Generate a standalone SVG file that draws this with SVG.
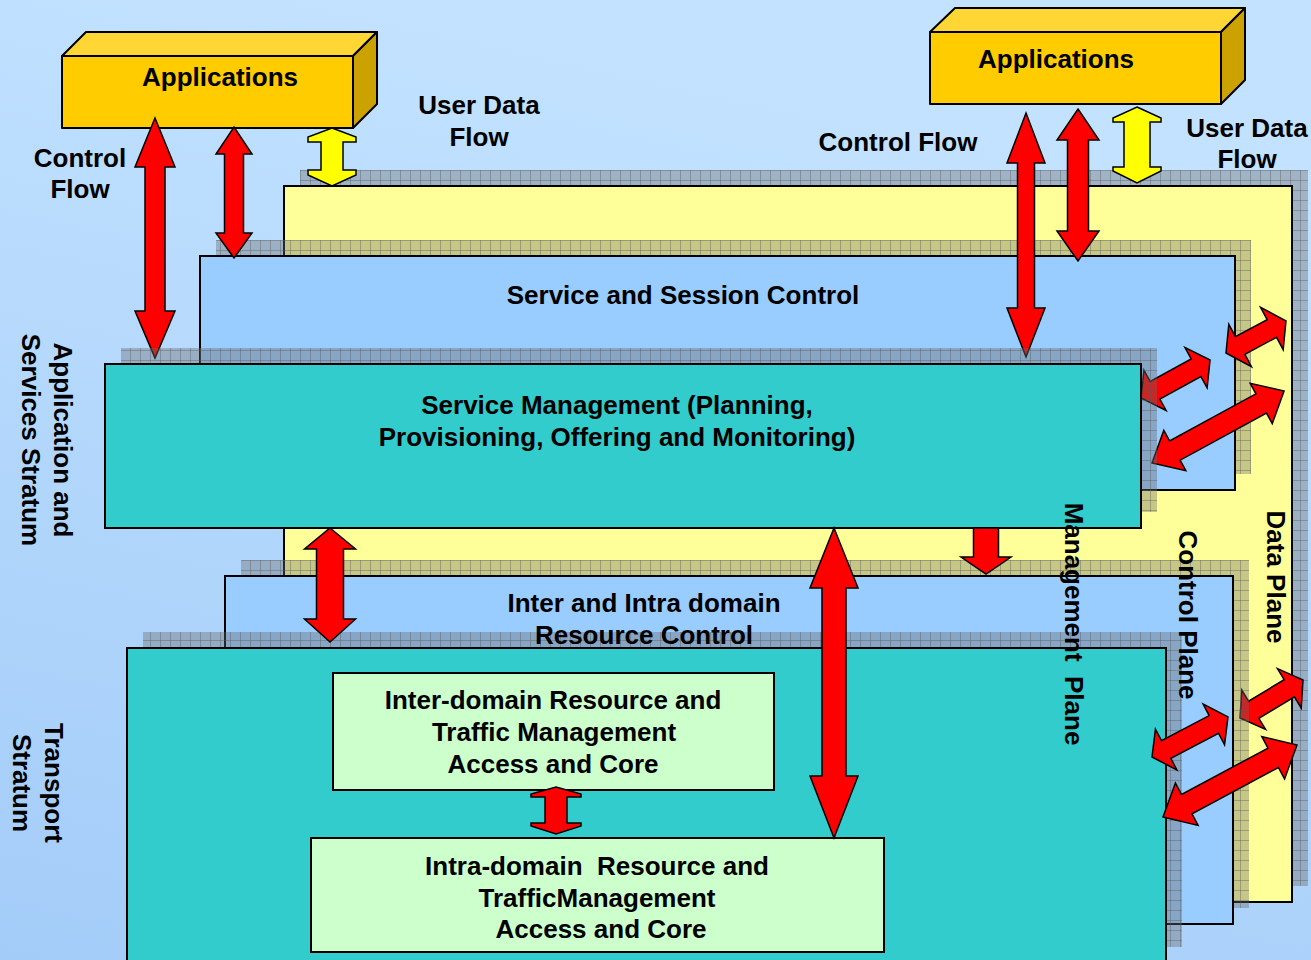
<svg xmlns="http://www.w3.org/2000/svg" width="1311" height="960" viewBox="0 0 1311 960">
<defs>
<linearGradient id="bg" x1="0.3" y1="0" x2="0" y2="1">
<stop offset="0" stop-color="#C2E2FF"/>
<stop offset="1" stop-color="#A3CCF8"/>
</linearGradient>
<pattern id="sh" width="10" height="10" patternUnits="userSpaceOnUse">
<rect width="10" height="10" fill="#6a6a6a" fill-opacity="0.38"/>
<path d="M0 0.5H10M0.5 0V10" stroke="#5a5a5a" stroke-opacity="0.4" stroke-width="1"/>
</pattern>
<style>
.t{font-family:"Liberation Sans",Arial,Helvetica,sans-serif;font-weight:bold;font-size:26px;fill:#000;text-anchor:middle}
.box{stroke:#000;stroke-width:2}
.shadow{fill:url(#sh)}
.plane{fill:#FFFF99}
.blue{fill:#99CCFF}
.teal{fill:#33CCCC}
.green{fill:#CCFFCC}
.ar{fill:#FF0000;stroke:#000;stroke-width:1.5;stroke-linejoin:miter}
.ay{fill:#FFFF00;stroke:#000;stroke-width:1.5;stroke-linejoin:miter}
.front{fill:#FFCC00;stroke:#000;stroke-width:2;stroke-linejoin:round}
.top{fill:#FFD633;stroke:#000;stroke-width:2;stroke-linejoin:round}
.side{fill:#CCA200;stroke:#000;stroke-width:2;stroke-linejoin:round}
</style>
</defs>
<rect width="1311" height="960" fill="url(#bg)"/>

<g id="apps-left">
<polygon class="top" points="62,56 86,32 377,32 353,56"/>
<polygon class="side" points="353,56 377,32 377,104 353,128"/>
<rect class="front" x="62" y="56" width="291" height="72"/>
<text class="t" x="220" y="86">Applications</text>
</g>
<g id="apps-right">
<polygon class="top" points="930,32 955,8 1245,8 1221,32"/>
<polygon class="side" points="1221,32 1245,8 1245,80 1221,104"/>
<rect class="front" x="930" y="32" width="291" height="72"/>
<text class="t" x="1056" y="68">Applications</text>
</g>

<g id="data-plane">
<rect class="shadow" x="300" y="170" width="1008" height="716"/>
<rect class="plane box" x="284" y="186" width="1008" height="716"/>
</g>

<g id="service-session-control">
<rect class="shadow" x="216" y="240" width="1035" height="234"/>
<rect class="blue box" x="200" y="256" width="1035" height="234"/>
<text class="t" x="683" y="304">Service and Session Control</text>
</g>

<g id="connectors-back">
<polygon class="ar" points="155,118 175,167 165,167 165,311 175,311 155,358 135,311 145,311 145,167 135,167"/>
<polygon class="ar" points="234,127 252,154 243.5,154 243.5,233 252,233 234,258 216,233 224.5,233 224.5,154 216,154"/>
<polygon class="ay" points="332,128 356,137 356,142 343,142 343,170 356,170 356,175 332,186 308,175 308,170 321,170 321,142 308,142 308,137"/>
<polygon class="ar" points="1026,113 1045,163 1034.5,163 1034.5,308 1045,308 1026,357 1007,308 1017.5,308 1017.5,163 1007,163"/>
<polygon class="ar" points="1078,109 1099,140 1088.5,140 1088.5,231 1099,231 1078,261 1057,231 1067.5,231 1067.5,140 1057,140"/>
<polygon class="ay" points="1137,107 1161,118 1161,122 1150,122 1150,167 1161,167 1161,171 1137,183 1113,171 1113,167 1124,167 1124,122 1113,122 1113,118"/>
<polygon class="ar" transform="translate(1141,398) rotate(-28.8)" points="0,0 16,-23 16,-10 62.8,-10 62.8,-23 78.8,0 62.8,23 62.8,10 16,10 16,23"/>
<polygon class="ar" transform="translate(1226,353) rotate(-28.1)" points="0,0 16,-24 16,-10 52,-10 52,-24 68,0 52,24 52,10 16,10 16,24"/>
<polygon class="ar" transform="translate(1152,463) rotate(-28.6)" points="0,0 26,-23 26,-11 124.4,-11 124.4,-23 150.4,0 124.4,23 124.4,11 26,11 26,23"/>
<polygon class="ar" transform="translate(1240,718) rotate(-31.1)" points="0,0 16,-23 16,-10 57.6,-10 57.6,-23 73.6,0 57.6,23 57.6,10 16,10 16,23"/>
</g>

<g id="service-mgmt">
<rect class="shadow" x="121" y="348" width="1036" height="164"/>
<rect class="teal box" x="105" y="364" width="1036" height="164"/>
<text class="t" x="617" y="414">Service Management (Planning,</text>
<text class="t" x="617" y="446">Provisioning, Offering and Monitoring)</text>
</g>

<g id="resource-control">
<rect class="shadow" x="241" y="560" width="1008" height="348"/>
<rect class="blue box" x="225" y="576" width="1008" height="348"/>
</g>

<g id="transport">
<rect class="shadow" x="143" y="632" width="1039" height="315"/>
<rect class="teal box" x="127" y="648" width="1039" height="315"/>
</g>

<g id="resource-control-label">
<text class="t" x="644" y="612">Inter and Intra domain</text>
<text class="t" x="644" y="644">Resource Control</text>
</g>

<g id="inter-domain">
<rect class="green box" x="333" y="673" width="441" height="117"/>
<text class="t" x="553" y="709">Inter-domain Resource and</text>
<text class="t" x="554" y="741">Traffic Management</text>
<text class="t" x="553" y="773">Access and Core</text>
</g>

<g id="intra-domain">
<rect class="green box" x="311" y="838" width="573" height="114"/>
<text class="t" x="597" y="875" xml:space="preserve">Intra-domain  Resource and</text>
<text class="t" x="597" y="907">TrafficManagement</text>
<text class="t" x="601" y="938">Access and Core</text>
</g>

<g id="connectors-front">
<polygon class="ar" points="330,528 355.5,549 343.5,549 343.5,619 355.5,619 330,642 304.5,619 316.5,619 316.5,549 304.5,549"/>
<polygon class="ar" points="834,528 858,588 846,588 846,776 858,776 834,838 810,776 822,776 822,588 810,588"/>
<polygon class="ar" points="973.5,528 998.5,528 998.5,557 1011,557 986,574 961,557 973.5,557"/>
<polygon class="ar" points="556,787 581,794 581,797 567,797 567,823 581,823 581,826 556,834 531,826 531,823 545,823 545,797 531,797 531,794"/>
<polygon class="ar" transform="translate(1152,757) rotate(-27.8)" points="0,0 16,-23 16,-10 69.9,-10 69.9,-23 85.9,0 69.9,23 69.9,10 16,10 16,23"/>
<polygon class="ar" transform="translate(1163,817) rotate(-28.25)" points="0,0 27,-24 27,-11 125.1,-11 125.1,-24 152.1,0 125.1,24 125.1,11 27,11 27,24"/>
</g>

<g id="labels">
<text class="t" x="80" y="167">Control</text>
<text class="t" x="80" y="198">Flow</text>
<text class="t" x="479" y="114">User Data</text>
<text class="t" x="479" y="146">Flow</text>
<text class="t" x="898" y="151">Control Flow</text>
<text class="t" x="1247" y="137">User Data</text>
<text class="t" x="1247" y="168">Flow</text>
<text class="t" transform="translate(54,440) rotate(90)">Application and</text>
<text class="t" transform="translate(22,440) rotate(90)">Services Stratum</text>
<text class="t" transform="translate(45,783) rotate(90)">Transport</text>
<text class="t" transform="translate(13,783) rotate(90)">Stratum</text>
<text class="t" transform="translate(1065,624) rotate(90)" xml:space="preserve">Management  Plane</text>
<text class="t" transform="translate(1179,615) rotate(90)">Control Plane</text>
<text class="t" transform="translate(1267,577) rotate(90)">Data Plane</text>
</g>
</svg>
